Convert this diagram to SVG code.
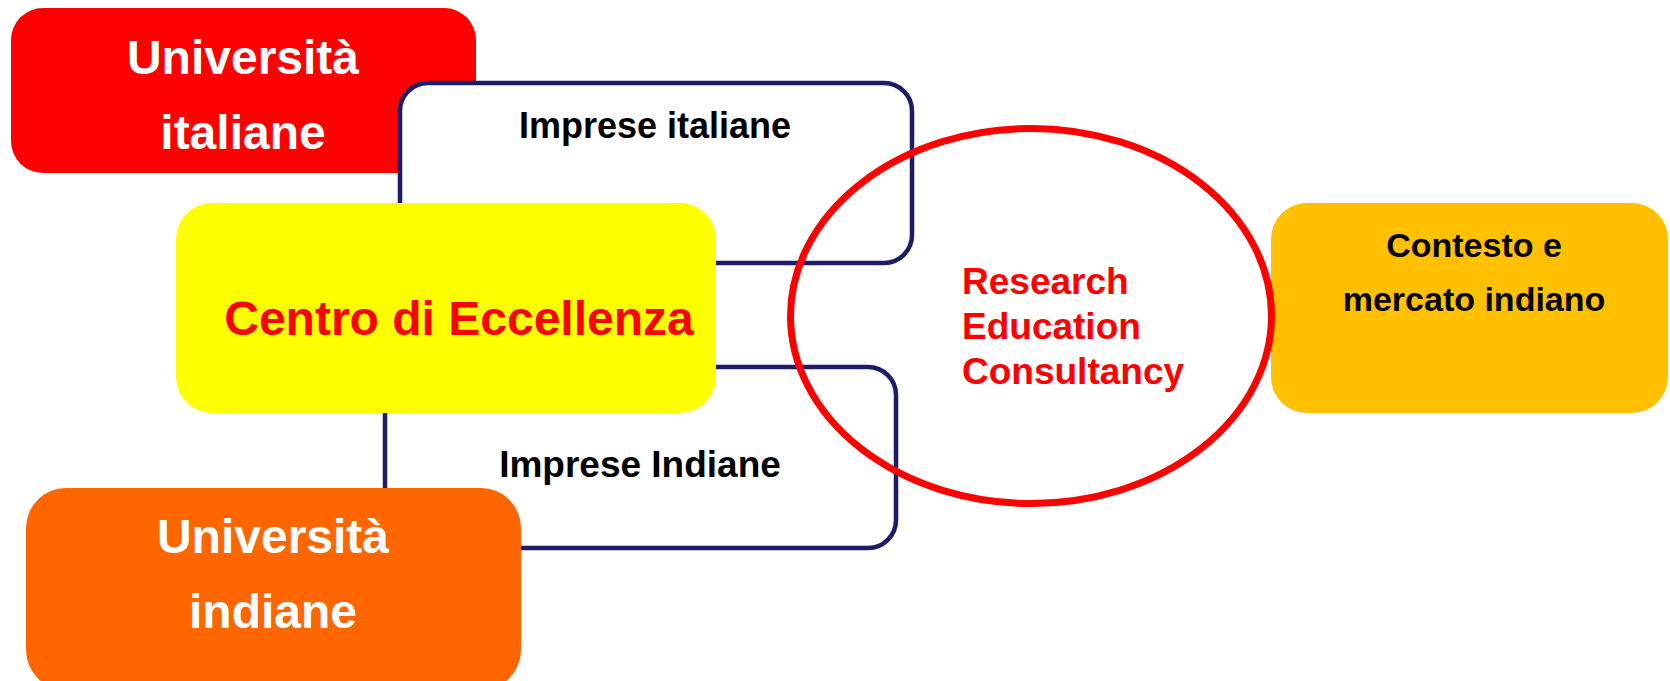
<svg xmlns="http://www.w3.org/2000/svg" width="1670" height="681" viewBox="0 0 1670 681">
<style>
text{font-family:"Liberation Sans",Arial,sans-serif;font-weight:bold;text-anchor:middle}
.frame{fill:#fff;stroke:#1c1c6b;stroke-width:4.5}
.w{fill:#fff;font-size:48px}
.k{fill:#000}
.r{fill:#ff0000}
</style>
<rect width="1670" height="681" fill="#fff"/>
<g id="universita-italiane">
<rect x="11" y="8" width="465" height="165" rx="32" fill="#ff0000"/>
<text class="w" x="243" y="74">Università</text>
<text class="w" x="243" y="149">italiane</text>
</g>
<g id="imprese-italiane">
<rect class="frame" x="400" y="83" width="512" height="180" rx="28"/>
<text class="k" x="655" y="138" font-size="36">Imprese italiane</text>
</g>
<g id="imprese-indiane">
<rect class="frame" x="385" y="367" width="511" height="181" rx="28"/>
<text class="k" x="640" y="477" font-size="37">Imprese Indiane</text>
</g>
<g id="centro">
<rect x="176" y="203" width="540" height="210" rx="36" fill="#ffff00"/>
<text class="r" x="459" y="335" font-size="48">Centro di Eccellenza</text>
</g>
<g id="universita-indiane">
<rect x="26" y="488" width="495" height="202" rx="40" fill="#ff6600"/>
<text class="w" x="273" y="553">Università</text>
<text class="w" x="273" y="628">indiane</text>
</g>
<g id="contesto">
<rect x="1271" y="203" width="397" height="210" rx="36" fill="#ffc000"/>
<text class="k" x="1474" y="257" font-size="34">Contesto e</text>
<text class="k" x="1474" y="311" font-size="34">mercato indiano</text>
</g>
<g id="rec">
<ellipse cx="1031" cy="316" rx="240.5" ry="187.5" fill="none" stroke="#ff0000" stroke-width="7"/>
<text class="r" font-size="37" style="text-anchor:start">
<tspan x="962" y="294">Research</tspan>
<tspan x="962" y="339">Education</tspan>
<tspan x="962" y="384">Consultancy</tspan>
</text>
</g>
</svg>
